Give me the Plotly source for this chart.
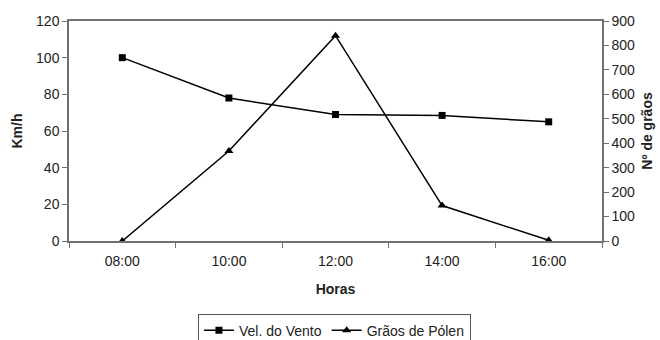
import plotly.graph_objects as go

horas = ["08:00", "10:00", "12:00", "14:00", "16:00"]
vel_vento = [100, 78, 69, 68.5, 65]
graos_polen = [0, 368, 840, 145, 3]

FONT = "Liberation Sans, Arial, sans-serif"
AXIS_COLOR = "#707070"
TXT = "#222"

fig = go.Figure()
fig.add_trace(go.Scatter(
    x=horas, y=vel_vento, name="Vel. do Vento", mode="lines+markers",
    line=dict(color="black", width=1.5),
    marker=dict(symbol="square", size=7, color="black"),
    yaxis="y",
))
fig.add_trace(go.Scatter(
    x=horas, y=graos_polen, name="Grãos de Pólen", mode="lines+markers",
    line=dict(color="black", width=1.5),
    marker=dict(symbol="triangle-up", size=8, color="black"),
    yaxis="y2",
))

fig.update_layout(
    width=660, height=340,
    margin=dict(l=69, r=58, t=21, b=99, autoexpand=False),
    paper_bgcolor="white", plot_bgcolor="white",
    font=dict(family=FONT, size=14, color=TXT),
    showlegend=True,
    legend=dict(
        orientation="h", x=0.498, xanchor="center", y=-0.33, yanchor="top",
        bordercolor="#555", borderwidth=1, font=dict(size=14, color=TXT),
        tracegroupgap=0,
    ),
    xaxis=dict(
        type="category", range=[-0.5, 4.5], automargin=False,
        showline=True, linecolor=AXIS_COLOR, linewidth=1.5, mirror=True,
        ticks="outside", tickson="boundaries", ticklen=5, tickcolor=AXIS_COLOR,
        ticklabelstandoff=6,
        showgrid=False, zeroline=False,
        tickfont=dict(size=14, color=TXT),
        title=dict(text="<b>Horas</b>", font=dict(size=14, color=TXT), standoff=17),
    ),
    yaxis=dict(
        range=[0, 120], dtick=20, automargin=False,
        showline=True, linecolor=AXIS_COLOR, linewidth=1.5,
        ticks="outside", ticklen=5, tickcolor=AXIS_COLOR,
        showgrid=False, zeroline=False,
        tickfont=dict(size=14, color=TXT),
        title=dict(text="<b>Km/h</b>", font=dict(size=14, color=TXT), standoff=10),
    ),
    yaxis2=dict(
        range=[0, 900], dtick=100, overlaying="y", side="right", automargin=False,
        showline=True, linecolor=AXIS_COLOR, linewidth=1.5,
        ticks="outside", ticklen=5, tickcolor=AXIS_COLOR,
        showgrid=False, zeroline=False,
        tickfont=dict(size=14, color=TXT),
        title=dict(text="<b>Nº de grãos</b>", font=dict(size=14, color=TXT), standoff=8),
    ),
)

fig.write_html("out.html")
